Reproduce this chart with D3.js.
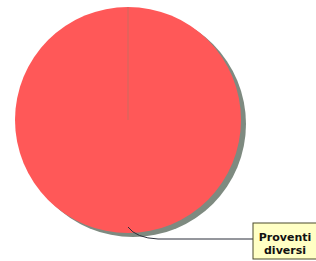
<!DOCTYPE html>
<html>
<head>
<meta charset="utf-8">
<script src="https://cdn.jsdelivr.net/npm/d3@7"></script>
<style>
  body { margin: 0; background: #fff; }
</style>
</head>
<body>
<div id="chart"></div>
<script>
var svgWidth = 316;
var svgHeight = 261;

// data
var categories = ["Proventi diversi"];
var values = [100];
var labelLines = [["Proventi", "diversi"]];

var cx = 128, cy = 120, radius = 113;

var svg = d3.select("#chart")
  .append("svg")
  .attr("width", svgWidth)
  .attr("height", svgHeight);

var pie = d3.pie().sort(null).value(function(d, i) { return values[i]; });
var arcs = pie(categories);
var arc = d3.arc().innerRadius(0).outerRadius(radius);

// shadow
svg.append("g")
  .attr("transform", `translate(${cx + 5}, ${cy + 4})`)
  .selectAll("path")
  .data(arcs)
  .enter()
  .append("path")
  .attr("d", arc)
  .attr("fill", "#7e8a80");

var chartGroup = svg.append("g")
  .attr("transform", `translate(${cx}, ${cy})`);

chartGroup.selectAll("path.slice")
  .data(arcs)
  .enter()
  .append("path")
  .attr("class", "slice")
  .attr("d", arc)
  .attr("fill", "#ff5858");

// seam at the slice start
chartGroup.selectAll("line.seam")
  .data(arcs)
  .enter()
  .append("line")
  .attr("class", "seam")
  .attr("x1", 0).attr("y1", 0)
  .attr("x2", d => radius * Math.sin(d.startAngle))
  .attr("y2", d => -radius * Math.cos(d.startAngle))
  .attr("stroke", "#c27060")
  .attr("stroke-width", 1)
  .attr("opacity", 0.8);

// leader line + label box
var boxX = 253, boxY = 223, boxW = 70, boxH = 36;
arcs.forEach(function(d, i) {
  var mid = (d.startAngle + d.endAngle) / 2;
  var px = cx + (radius - 6) * Math.sin(mid);
  var py = cy - (radius - 6) * Math.cos(mid);
  var ly = 239;
  svg.append("path")
    .attr("d", `M${px},${py} Q${px + 8},${ly - 1} ${px + 30},${ly} L${boxX},${ly}`)
    .attr("fill", "none")
    .attr("stroke", "#2a2f3a")
    .attr("stroke-width", 1);

  svg.append("rect")
    .attr("x", boxX).attr("y", boxY)
    .attr("width", boxW).attr("height", boxH)
    .attr("fill", "#ffffc4")
    .attr("stroke", "#4a4a2a")
    .attr("stroke-width", 1);

  svg.append("text")
    .attr("x", boxX + 32)
    .attr("y", boxY + 18)
    .attr("text-anchor", "middle")
    .attr("font-family", "DejaVu Sans, sans-serif")
    .attr("font-weight", "bold")
    .attr("font-size", "11px")
    .attr("fill", "#111")
    .selectAll("tspan")
    .data(labelLines[i])
    .enter()
    .append("tspan")
    .attr("x", boxX + 32)
    .attr("dy", (t, j) => j === 0 ? 0 : 13)
    .text(t => t);
});
</script>
</body>
</html>
